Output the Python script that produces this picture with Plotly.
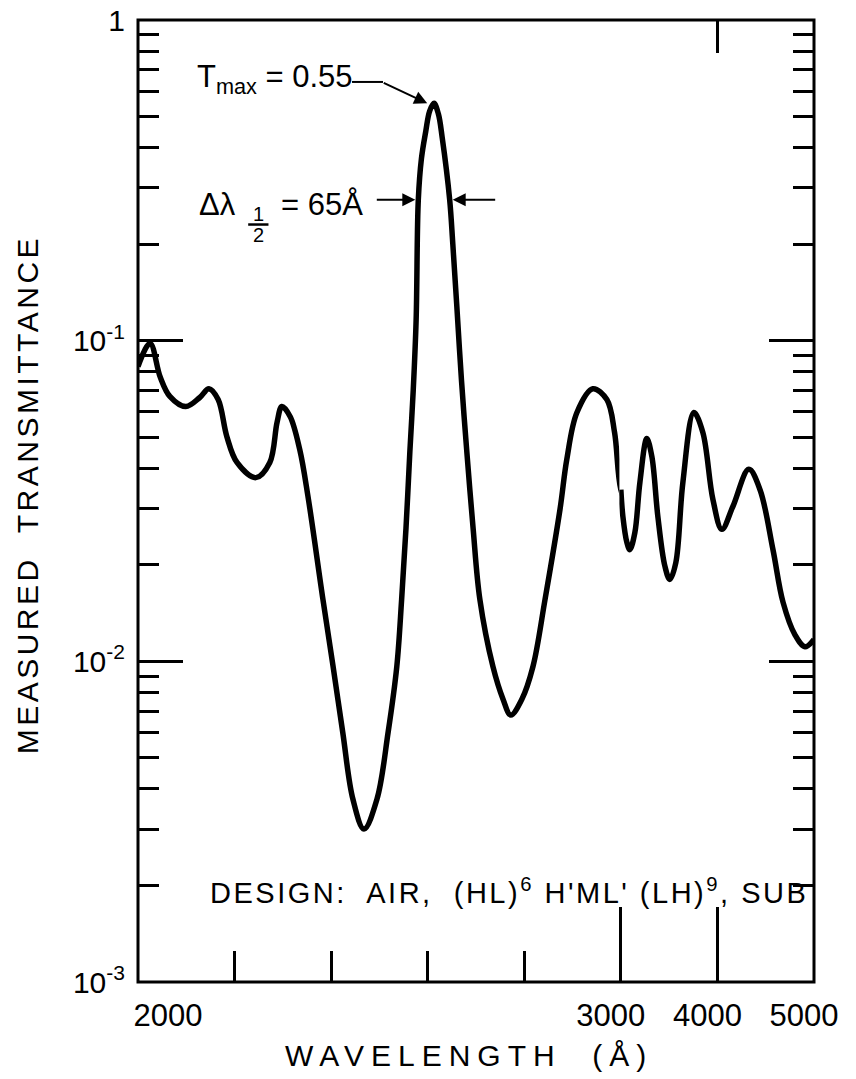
import numpy as np
import plotly.graph_objects as go

# ---------------------------------------------------------------------------
# Measured transmittance of the multilayer interference filter.
# The wavelength scale is broken: 2000-3000 Å is drawn on an expanded linear
# scale (200 Å per division), 3000-5000 Å on a compressed one (1000 Å/div).
# ---------------------------------------------------------------------------
wl_short = [2000, 2025, 2046, 2066, 2099, 2128, 2147, 2166, 2184, 2205,
            2244, 2273, 2288, 2298, 2315, 2335, 2352, 2383, 2404, 2424,
            2445, 2468, 2495, 2518, 2536, 2546, 2555, 2563, 2570, 2576,
            2580.5, 2587, 2596, 2604, 2613, 2622, 2630, 2645.5, 2652, 2660,
            2670, 2681, 2694, 2708, 2735, 2756, 2772, 2795, 2818, 2843,
            2874, 2888, 2909, 2942, 2971, 2987, 3000]
t_short = [0.083, 0.098, 0.077, 0.067, 0.0623, 0.0665, 0.0708, 0.0655, 0.0502, 0.0417,
           0.0374, 0.0417, 0.0556, 0.0623, 0.058, 0.0457, 0.0327, 0.0156, 0.00964, 0.00601,
           0.00372, 0.0030, 0.00372, 0.00601, 0.00964, 0.0156, 0.026, 0.045, 0.07, 0.116,
           0.275, 0.37, 0.45, 0.52, 0.55, 0.51, 0.43, 0.275, 0.2, 0.13,
           0.075, 0.045, 0.026, 0.0156, 0.00964, 0.00762, 0.0068, 0.00762, 0.00964, 0.0156,
           0.0298, 0.0426, 0.0597, 0.0708, 0.0655, 0.0517, 0.0343]

wl_long = [3000, 3021, 3062, 3093, 3145, 3197, 3269, 3321, 3383, 3456,
           3507, 3569, 3642, 3756, 3849, 3953, 4046, 4160, 4325, 4441,
           4575, 4679, 4803, 4907, 5000]
t_long = [0.0343, 0.0283, 0.0235, 0.0223, 0.0252, 0.0361, 0.0495, 0.0435, 0.0283, 0.0198,
          0.018, 0.0203, 0.0361, 0.0597, 0.0517, 0.032, 0.0258, 0.0304, 0.0397, 0.0343,
          0.0223, 0.0153, 0.0121, 0.0111, 0.0117]

# Pass-band characteristics
T_MAX = 0.55
PEAK_WL = 2613
FWHM = 65

# Axis ticks
x_ticks_short = [2000, 2200, 2400, 2600, 2800]
x_labels_short = ["2000", "", "", "", ""]
x_ticks_long = [3000, 4000, 5000]
x_labels_long = ["3000", "4000", "5000"]
x_ticks_top = [4000]
y_ticks = [1e-3, 1e-2, 1e-1, 1]
y_labels = ["10<sup>-3</sup>", "10<sup>-2</sup>", "10<sup>-1</sup>", "1"]
y_minor = [k * 10.0 ** d for d in (-3, -2, -1) for k in range(2, 10)]

FONT = "Liberation Sans"
INK = "black"
SPLIT = 5 / 7  # fraction of the width given to 2000-3000 Å
# The long-wavelength axis starts a little before 3000 Å (and its domain a
# matching sliver earlier) so its 3000 Å tick is not culled at the axis end.
LEAD = 15
x2_start = SPLIT - LEAD * (1 - SPLIT) / (5000 - 3000)
x_long_range = [3000 - LEAD, 5000]

curve = dict(color=INK, width=5.5, shape="spline", smoothing=1.0)

fig = go.Figure()
# The short-wavelength half carries the next measured point beyond 3000 Å so
# its stroke runs on (clipped) into the joint instead of ending square.
fig.add_trace(go.Scatter(x=wl_short + wl_long[1:2], y=t_short + t_long[1:2],
                         xaxis="x", yaxis="y", mode="lines", line=curve,
                         hoverinfo="skip", showlegend=False))
fig.add_trace(go.Scatter(x=wl_long, y=t_long, xaxis="x2", yaxis="y",
                         mode="lines", line=curve,
                         hoverinfo="skip", showlegend=False))
# Empty traces so the tick-only axes (right-hand ticks, top tick) get drawn
fig.add_trace(go.Scatter(x=[], y=[], xaxis="x2", yaxis="y2", showlegend=False,
                         hoverinfo="skip"))
fig.add_trace(go.Scatter(x=[], y=[], xaxis="x3", yaxis="y", showlegend=False,
                         hoverinfo="skip"))

tick_font = dict(family=FONT, size=31, color=INK)
y_common = dict(
    type="log", range=[-3, 0], tickmode="array", tickvals=y_ticks,
    ticks="inside", ticklen=45, tickwidth=2.5, tickcolor=INK,
    showgrid=False, zeroline=False, showline=False, automargin=False,
    minor=dict(tickmode="array", tickvals=y_minor, ticks="inside",
               ticklen=21, tickwidth=2.5, tickcolor=INK, showgrid=False),
)

fig.update_layout(
    width=856, height=1079,
    margin=dict(l=138, r=42, t=20, b=97, autoexpand=False),
    paper_bgcolor="white", plot_bgcolor="white",
    font=dict(family=FONT, color=INK),
    xaxis=dict(domain=[0, SPLIT], range=[2000, 3000], anchor="y",
               tickmode="array", tickvals=x_ticks_short, ticktext=x_labels_short,
               ticks="inside", ticklen=31, tickwidth=2.5, tickcolor=INK,
               tickfont=tick_font, ticklabelstandoff=12, ticklabelshift=30,
               showgrid=False, zeroline=False, showline=False, automargin=False),
    xaxis2=dict(domain=[x2_start, 1], range=x_long_range, anchor="y",
                tickmode="array", tickvals=x_ticks_long, ticktext=x_labels_long,
                ticks="inside", ticklen=75, tickwidth=2.5, tickcolor=INK,
                tickfont=tick_font, ticklabelstandoff=12, ticklabelshift=-10,
                showgrid=False, zeroline=False, showline=False, automargin=False),
    xaxis3=dict(overlaying="x2", side="top", anchor="y", range=x_long_range,
                tickmode="array", tickvals=x_ticks_top, ticks="inside",
                ticklen=33, tickwidth=2.5, tickcolor=INK,
                showticklabels=False, showgrid=False, zeroline=False,
                showline=False, automargin=False),
    yaxis=dict(anchor="x", side="left", ticktext=y_labels,
               tickfont=dict(family=FONT, size=30, color=INK),
               ticklabelstandoff=12, **y_common),
    yaxis2=dict(overlaying="y", anchor="x2", side="right",
                showticklabels=False, **y_common),
)

# Plot frame
fig.add_shape(type="rect", xref="paper", yref="paper", x0=0, x1=1, y0=0, y1=1,
              line=dict(color=INK, width=3), layer="above")

# Axis titles
fig.add_annotation(text='<span style="letter-spacing:7px">WAVELENGTH  (Å)</span>',
                   xref="paper", yref="paper", x=0.49, y=-0.076,
                   xanchor="center", yanchor="middle", showarrow=False,
                   font=dict(family=FONT, size=30, color=INK))
fig.add_annotation(text='<span style="letter-spacing:3.5px">MEASURED  TRANSMITTANCE</span>',
                   xref="paper", yref="paper", x=-0.164, y=0.506,
                   xanchor="center", yanchor="middle", showarrow=False,
                   textangle=-90, font=dict(family=FONT, size=30, color=INK))

# Peak transmittance label with leader
fig.add_annotation(text=f"T<sub>max</sub> = {T_MAX:.2f}", xref="paper", yref="paper",
                   x=0.084, y=0.9386, xanchor="left", yanchor="middle",
                   showarrow=False, font=dict(family=FONT, size=31, color=INK))
fig.add_shape(type="line", xref="paper", yref="paper",
              x0=0.3166, x1=0.3624, y0=0.9356, y1=0.9356,
              line=dict(color=INK, width=2))
fig.add_annotation(x=PEAK_WL - 14, y=np.log10(T_MAX), xref="x", yref="y",
                   ax=-45, ay=-21, text="", showarrow=True,
                   arrowhead=2, arrowsize=1.3, arrowwidth=2, arrowcolor=INK)

# Bandwidth label with arrows at half maximum
y_half = np.log10(T_MAX / 2)
fig.add_annotation(text="Δλ", xref="paper", yref="paper", x=0.087, y=0.8087,
                   xanchor="left", yanchor="middle", showarrow=False,
                   font=dict(family=FONT, size=31, color=INK))
fig.add_annotation(text="1", xref="paper", yref="paper", x=0.178, y=0.7986,
                   xanchor="center", yanchor="middle", showarrow=False,
                   font=dict(family=FONT, size=20, color=INK))
fig.add_shape(type="line", xref="paper", yref="paper",
              x0=0.163, x1=0.193, y0=0.7874, y1=0.7874,
              line=dict(color=INK, width=2.5))
fig.add_annotation(text="2", xref="paper", yref="paper", x=0.178, y=0.7765,
                   xanchor="center", yanchor="middle", showarrow=False,
                   font=dict(family=FONT, size=20, color=INK))
fig.add_annotation(text=f"= {FWHM}Å", xref="paper", yref="paper", x=0.209, y=0.8077,
                   xanchor="left", yanchor="middle", showarrow=False,
                   font=dict(family=FONT, size=31, color=INK))
fig.add_annotation(x=PEAK_WL - FWHM / 2, y=y_half, xref="x", yref="y",
                   ax=-43, ay=0, text="", showarrow=True, standoff=3,
                   arrowhead=2, arrowsize=1.3, arrowwidth=2, arrowcolor=INK)
fig.add_annotation(x=PEAK_WL + FWHM / 2, y=y_half, xref="x", yref="y",
                   ax=47, ay=0, text="", showarrow=True, standoff=3,
                   arrowhead=2, arrowsize=1.3, arrowwidth=2, arrowcolor=INK)

# Coating design
fig.add_annotation(text='<span style="letter-spacing:2.5px">DESIGN:  AIR,  (HL)<sup>6</sup> H\'ML\' (LH)<sup>9</sup>, SUB</span>',
                   xref="paper", yref="paper", x=0.1036, y=0.095,
                   xanchor="left", yanchor="middle", showarrow=False,
                   font=dict(family=FONT, size=29, color=INK))

fig.write_html("out.html")
